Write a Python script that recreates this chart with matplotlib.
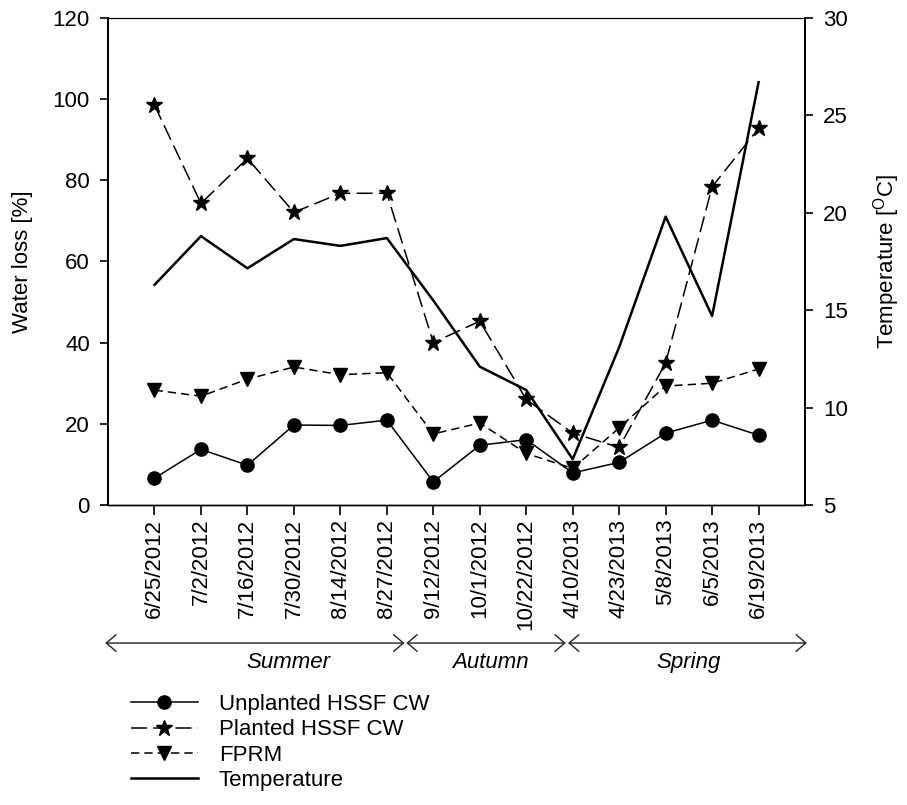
import numpy as np
import matplotlib
matplotlib.use('Agg')
import matplotlib.pyplot as plt
import matplotlib.transforms as mtransforms

plt.rcParams['font.family'] = ['Liberation Sans', 'DejaVu Sans']
plt.rcParams['mathtext.fontset'] = 'custom'
plt.rcParams['mathtext.rm'] = 'Liberation Sans'
plt.rcParams['lines.scale_dashes'] = False

# Sampling dates and measured values
dates = ['6/25/2012', '7/2/2012', '7/16/2012', '7/30/2012', '8/14/2012',
         '8/27/2012', '9/12/2012', '10/1/2012', '10/22/2012', '4/10/2013',
         '4/23/2013', '5/8/2013', '6/5/2013', '6/19/2013']
unplanted = [6.6, 13.7, 9.8, 19.7, 19.6, 20.9, 5.7, 14.7, 16.1, 7.9, 10.5, 17.7, 20.9, 17.2]
planted = [98.5, 74.3, 85.4, 72.1, 76.8, 76.8, 40.0, 45.3, 26.0, 17.7, 14.2, 35.0, 78.4, 92.8]
fprm = [28.3, 26.8, 31.0, 34.0, 32.1, 32.6, 17.5, 20.2, 12.7, 9.0, 19.0, 29.3, 30.0, 33.5]
temperature = [16.3, 18.8, 17.15, 18.65, 18.3, 18.7, 15.5, 12.1, 10.9, 7.35, 13.1, 19.8, 14.7, 26.7]

seasons = ['Summer', 'Autumn', 'Spring']

x = np.arange(1, len(dates) + 1)
fs = 16

fig = plt.figure(figsize=(9.07, 8.05), dpi=100)
ax = fig.add_axes([0.1191, 0.3727, 0.7685, 0.6050])
ax2 = ax.twinx()

l1, = ax.plot(x, unplanted, color='black', lw=1.1, marker='o', ms=9.5,
              label='Unplanted HSSF CW')
l2, = ax.plot(x, planted, color='black', lw=1.1, marker='*', ms=12,
              dashes=(11.5, 4.5), label='Planted HSSF CW')
l3, = ax.plot(x, fprm, color='black', lw=1.1, marker='v', ms=9.5,
              dashes=(6, 3.6), label='FPRM')
l4, = ax2.plot(x, temperature, color='black', lw=1.8, label='Temperature')

ax.set_xlim(0, 15)
ax.set_ylim(0, 120)
ax.set_yticks(np.arange(0, 121, 20))
ax2.set_ylim(5, 30)
ax2.set_yticks(np.arange(5, 31, 5))

ax.set_xticks(x)
ax.set_xticklabels(dates, rotation=90, fontsize=fs)
ax.tick_params(axis='x', direction='out', length=7, width=1.2, pad=3)
ax.tick_params(axis='y', direction='out', length=6, width=1.2, pad=7, labelsize=fs)
ax2.tick_params(axis='y', direction='out', length=6, width=1.2, pad=7, labelsize=fs)

ax.set_ylabel('Water loss [%]', fontsize=fs, labelpad=14)
ax2.set_ylabel(r'Temperature [$^{\mathrm{O}}$C]', fontsize=fs, labelpad=17)

for a in (ax, ax2):
    a.spines['left'].set_linewidth(1.4)
    a.spines['right'].set_linewidth(1.4)
    a.spines['bottom'].set_linewidth(1.0)
    a.spines['top'].set_linewidth(0.8)
ax.patch.set_visible(False)

# Season spans below the date labels
trans = mtransforms.blended_transform_factory(ax.transData, fig.transFigure)
spans = [(-0.06, 6.38), (6.42, 9.85), (9.9, 15.04)]
text_x = [3.88, 8.23, 12.5]
for (x0, x1), tx, name in zip(spans, text_x, seasons):
    ax.annotate('', xy=(x1, 0.2012), xytext=(x0, 0.2012),
                xycoords=trans, textcoords=trans, annotation_clip=False,
                arrowprops=dict(arrowstyle='<->, head_length=0.35, head_width=0.3',
                                mutation_scale=20, lw=1.0, color='#222222',
                                shrinkA=0, shrinkB=0))
    ax.text(tx, 0.1764, name, transform=trans, ha='center', va='center',
            fontsize=fs, style='italic')

fig.legend(handles=[l1, l2, l3, l4], loc='upper left',
           bbox_to_anchor=(0.1444, 0.138), frameon=False, fontsize=fs,
           borderpad=0, borderaxespad=0, labelspacing=0.2,
           handlelength=3.0, handletextpad=0.95, numpoints=1)

fig.savefig('out.png', dpi=100)
